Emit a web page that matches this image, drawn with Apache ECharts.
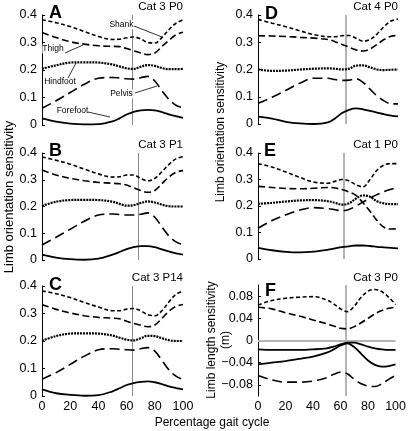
<!DOCTYPE html>
<html>
<head>
<meta charset="utf-8">
<script src="https://cdn.jsdelivr.net/npm/echarts@6/dist/echarts.min.js"></script>
<style>
html,body{margin:0;padding:0;background:#fff;}
#chart{width:409px;height:431px;}
</style>
</head>
<body>
<div id="chart"></div>
<script>
// ---- data ----
const pct = [0,10,20,30,40,50,55,60,65,70,75,80,85,90,95,100];
const xTicks = [0,20,40,60,80,100];
const orientTicks = [0,0.1,0.2,0.3,0.4];
const lengthTicks = [-0.08,-0.04,0,0.04,0.08];

const panelLetters = ['A','B','C','D','E','F'];
const panelTitles = ['Cat 3 P0','Cat 3 P1','Cat 3 P14','Cat 4 P0','Cat 1 P0','Cat 3 P0'];
const stanceSwitch = [64,68,64,63,61,64];

// Panel A (Cat 3 P0)
const shankA  = [0.383,0.372,0.358,0.340,0.322,0.311,0.312,0.317,0.320,0.313,0.300,0.298,0.318,0.347,0.370,0.383];
const thighA  = [0.336,0.318,0.303,0.294,0.288,0.286,0.285,0.278,0.270,0.262,0.256,0.262,0.285,0.308,0.328,0.337];
const hindA   = [0.205,0.217,0.227,0.228,0.227,0.220,0.213,0.206,0.204,0.212,0.218,0.215,0.207,0.203,0.203,0.204];
const pelvisA = [0.061,0.088,0.118,0.148,0.170,0.173,0.171,0.168,0.167,0.172,0.177,0.160,0.125,0.093,0.072,0.062];
const foreA   = [0.024,0.012,0.005,0.002,0.003,0.013,0.024,0.038,0.048,0.053,0.055,0.053,0.047,0.039,0.032,0.026];
// Panel B (Cat 3 P1)
const shankB  = [0.385,0.373,0.358,0.340,0.322,0.310,0.311,0.318,0.318,0.305,0.296,0.305,0.330,0.357,0.378,0.386];
const thighB  = [0.336,0.318,0.305,0.296,0.290,0.287,0.285,0.280,0.270,0.260,0.253,0.260,0.285,0.310,0.328,0.334];
const hindB   = [0.202,0.218,0.224,0.225,0.224,0.218,0.210,0.203,0.205,0.213,0.219,0.215,0.207,0.201,0.200,0.200];
const pelvisB = [0.056,0.085,0.115,0.145,0.168,0.172,0.170,0.168,0.168,0.171,0.176,0.160,0.124,0.090,0.068,0.057];
const foreB   = [0.020,0.009,0.003,0.001,0.005,0.020,0.030,0.041,0.048,0.052,0.052,0.048,0.040,0.032,0.025,0.020];
// Panel C (Cat 3 P14)
const shankC  = [0.382,0.372,0.358,0.340,0.324,0.310,0.310,0.316,0.318,0.310,0.296,0.292,0.310,0.342,0.370,0.382];
const thighC  = [0.333,0.315,0.302,0.292,0.286,0.283,0.281,0.272,0.264,0.257,0.252,0.258,0.282,0.308,0.326,0.333];
const hindC   = [0.201,0.218,0.227,0.228,0.227,0.220,0.212,0.205,0.202,0.210,0.219,0.218,0.210,0.203,0.200,0.200];
const pelvisC = [0.061,0.085,0.115,0.145,0.168,0.172,0.170,0.168,0.167,0.172,0.176,0.163,0.130,0.095,0.072,0.060];
const foreC   = [0.024,0.010,0.004,0.001,0.003,0.017,0.028,0.040,0.047,0.051,0.053,0.050,0.043,0.035,0.029,0.024];
// Panel D (Cat 4 P0)
const shankD  = [0.384,0.370,0.357,0.342,0.328,0.320,0.320,0.324,0.325,0.315,0.304,0.310,0.330,0.357,0.378,0.385];
const thighD  = [0.324,0.323,0.321,0.318,0.315,0.310,0.302,0.292,0.282,0.272,0.268,0.275,0.292,0.310,0.322,0.325];
const hindD   = [0.200,0.195,0.196,0.200,0.203,0.204,0.203,0.200,0.203,0.214,0.215,0.208,0.200,0.198,0.199,0.200];
const pelvisD = [0.076,0.098,0.124,0.150,0.168,0.168,0.163,0.160,0.161,0.166,0.153,0.128,0.103,0.085,0.074,0.074];
const foreD   = [0.027,0.020,0.008,0.002,0.000,0.006,0.020,0.040,0.052,0.057,0.054,0.048,0.042,0.036,0.031,0.028];
// Panel E (Cat 1 P0)
const shankE  = [0.360,0.347,0.328,0.308,0.290,0.286,0.293,0.300,0.295,0.280,0.272,0.300,0.335,0.355,0.360,0.360];
const thighE  = [0.274,0.270,0.266,0.265,0.267,0.270,0.268,0.262,0.253,0.240,0.212,0.180,0.145,0.120,0.113,0.114];
const hindE   = [0.208,0.212,0.217,0.221,0.222,0.218,0.212,0.205,0.210,0.228,0.240,0.235,0.218,0.210,0.207,0.207];
const pelvisE = [0.116,0.145,0.167,0.185,0.194,0.190,0.186,0.182,0.187,0.200,0.215,0.230,0.243,0.254,0.263,0.270];
const foreE   = [0.042,0.033,0.027,0.025,0.028,0.035,0.040,0.045,0.048,0.051,0.051,0.049,0.046,0.044,0.042,0.040];
// Panel F (Cat 3 P0, limb length)
const lenTopF    = [0.064,0.072,0.076,0.078,0.079,0.073,0.066,0.057,0.052,0.062,0.078,0.089,0.092,0.088,0.078,0.065];
const lenMidF    = [0.060,0.057,0.050,0.044,0.037,0.030,0.026,0.022,0.021,0.025,0.032,0.040,0.048,0.054,0.058,0.060];
const lenSolid1F = [-0.016,-0.017,-0.017,-0.017,-0.016,-0.014,-0.011,-0.007,-0.004,-0.004,-0.007,-0.011,-0.014,-0.016,-0.017,-0.017];
const lenSolid2F = [-0.043,-0.040,-0.037,-0.033,-0.029,-0.022,-0.016,-0.009,-0.005,-0.012,-0.024,-0.036,-0.044,-0.047,-0.046,-0.043];
const lenBotF    = [-0.063,-0.071,-0.075,-0.075,-0.073,-0.067,-0.061,-0.057,-0.060,-0.070,-0.078,-0.082,-0.083,-0.078,-0.070,-0.063];

// ---- styles ----
const FONT = '"Liberation Sans", Arial, Helvetica, sans-serif';
const ST = {
  shank:  {type:[4,2.5], width:1.6},
  thigh:  {type:[7,3.5], width:1.6},
  hind:   {type:[2,1], width:2.2},
  pelvis: {type:[10,5], width:1.6},
  fore:   {type:'solid', width:1.8},
};

const grids = [
  {left:42, top:15,  width:141, height:110},
  {left:42, top:153, width:141, height:107},
  {left:42, top:286, width:141, height:110},
  {left:258, top:15,  width:140, height:109},
  {left:258, top:153, width:140, height:106},
  {left:258, top:285, width:140, height:111},
];

const panels = [
  [[shankA,'shank'],[thighA,'thigh'],[hindA,'hind'],[pelvisA,'pelvis'],[foreA,'fore']],
  [[shankB,'shank'],[thighB,'thigh'],[hindB,'hind'],[pelvisB,'pelvis'],[foreB,'fore']],
  [[shankC,'shank'],[thighC,'thigh'],[hindC,'hind'],[pelvisC,'pelvis'],[foreC,'fore']],
  [[shankD,'shank'],[thighD,'thigh'],[hindD,'hind'],[pelvisD,'pelvis'],[foreD,'fore']],
  [[shankE,'shank'],[thighE,'thigh'],[hindE,'hind'],[pelvisE,'pelvis'],[foreE,'fore']],
  [[lenTopF,'shank'],[lenMidF,'thigh'],[lenSolid1F,'fore'],[lenSolid2F,'fore'],[lenBotF,'pelvis']],
];

const xAxes = grids.map((g,i)=>{
  const showLab = (i===2 || i===5);
  return {
    type:'value', gridIndex:i, min:0, max:100, interval:20,
    axisLine:{show:false}, axisTick:{show:false}, splitLine:{show:false},
    axisLabel:{show:showLab, color:'#000', fontSize:12.5, fontFamily:FONT, margin:4,
      customValues: xTicks}
  };
});

const yAxes = grids.map((g,i)=>{
  const isLen = i===5;
  return {
    type:'value', gridIndex:i,
    min: isLen ? -0.1 : 0, max: isLen ? 0.1 : 0.4,
    splitLine:{show:false},
    axisLine:{show:true, lineStyle:{color:'#000', width:1}},
    axisTick:{show:true, inside:true, length:3, lineStyle:{color:'#000'},
      customValues: isLen ? lengthTicks : orientTicks},
    axisLabel:{color:'#000', fontSize:12.5, fontFamily:FONT, margin:5,
      customValues: isLen ? lengthTicks : orientTicks,
      formatter: v => (v<0 ? '\u2212' + String(Math.abs(v)) : String(v))}
  };
});

const series = [];
panels.forEach((lines, i)=>{
  const light = i>=3;
  lines.forEach(([vals, st], k)=>{
    const s = {
      type:'line', xAxisIndex:i, yAxisIndex:i,
      data: pct.map((x,j)=>[x, vals[j]]),
      smooth:0.35, symbol:'none', silent:true,
      lineStyle:{color:'#000', width:ST[st].width, type:ST[st].type, cap:'butt'},
      z: 3
    };
    if (k===0) {
      const d = [{xAxis: stanceSwitch[i]}];
      if (i===5) d.push({yAxis: 0});
      s.markLine = {
        symbol:'none', silent:true, label:{show:false},
        lineStyle:{color: light ? '#b4b4b4' : '#8a8a8a', width: light ? 2 : 1, type:'solid'},
        data: d, z: 1
      };
    }
    series.push(s);
  });
});

const graphics = [];
// panel letters & titles
const letterPos = [[49,4],[49,142],[49,276],[265,5],[264,142],[265,282]];
const titlePos = [[183,7],[183,145],[183,278],[398,7],[398,145],[398,278]];
panelLetters.forEach((L,i)=>{
  graphics.push({type:'text', x:letterPos[i][0], y:letterPos[i][1],
    style:{text:L, font:'bold 18px ' + FONT, fill:'#000', textAlign:'left', textVerticalAlign:'top'}});
  graphics.push({type:'text', x:titlePos[i][0], y:titlePos[i][1],
    style:{text:panelTitles[i], font:'11.5px ' + FONT, fill:'#000', textAlign:'right', textVerticalAlign:'middle'}});
});
// axis titles
graphics.push({type:'text', x:9, y:197, rotation:Math.PI/2,
  style:{text:'Limb orientation sensitivity', font:'13px ' + FONT, fill:'#000', textAlign:'center', textVerticalAlign:'middle'}});
graphics.push({type:'text', x:221, y:132, rotation:Math.PI/2,
  style:{text:'Limb orientation sensitivity', font:'12px ' + FONT, fill:'#000', textAlign:'center', textVerticalAlign:'middle'}});
graphics.push({type:'text', x:212, y:340, rotation:Math.PI/2,
  style:{text:'Limb length sensitivity', font:'12px ' + FONT, fill:'#000', textAlign:'center', textVerticalAlign:'middle'}});
graphics.push({type:'text', x:226, y:340, rotation:Math.PI/2,
  style:{text:'(m)', font:'12px ' + FONT, fill:'#000', textAlign:'center', textVerticalAlign:'middle'}});
graphics.push({type:'text', x:212, y:423,
  style:{text:'Percentage gait cycle', font:'12px ' + FONT, fill:'#000', textAlign:'center', textVerticalAlign:'middle'}});

// annotations in panel A
const annos = [
  {t:'Shank',   tx:121.5, ty:24.5, l:[134,26,162,37]},
  {t:'Thigh',   tx:53,    ty:49,   l:[65,53,83,45]},
  {t:'Hindfoot',tx:60,    ty:82,   l:[68,78,76,63]},
  {t:'Pelvis',  tx:121.5, ty:94,   l:[135,93,157,86]},
  {t:'Forefoot',tx:72.5,  ty:111,  l:[88,112,110,117]},
];
annos.forEach(a=>{
  graphics.push({type:'text', x:a.tx, y:a.ty, z:10,
    style:{text:a.t, font:'8.5px ' + FONT, fill:'#000', textAlign:'center', textVerticalAlign:'middle',
      backgroundColor:'#fff'}});
  graphics.push({type:'line', z:10, shape:{x1:a.l[0], y1:a.l[1], x2:a.l[2], y2:a.l[3]},
    style:{stroke:'#000', lineWidth:0.8}});
});

const chart = echarts.init(document.getElementById('chart'), null, {renderer:'canvas'});
chart.setOption({
  animation:false,
  backgroundColor:'#fff',
  grid: grids,
  xAxis: xAxes,
  yAxis: yAxes,
  series: series,
  graphic: graphics
});
</script>
</body>
</html>
